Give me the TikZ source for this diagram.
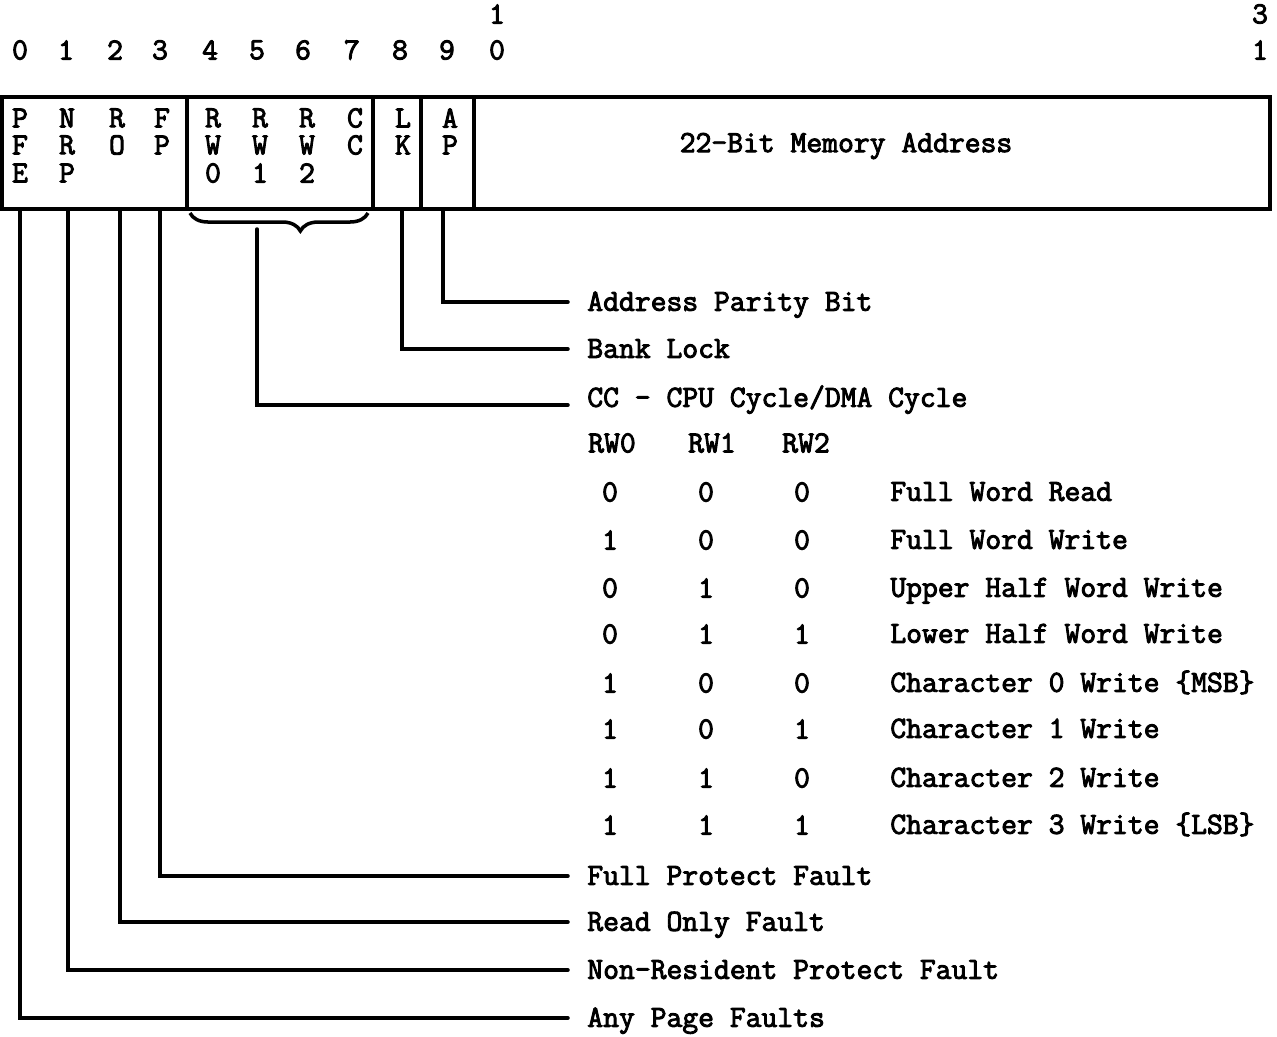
\documentclass[tikz,border=0pt]{standalone}
\usepackage{fontspec}
\newfontfamily\tw{Latin Modern Mono}[FakeBold=3]
\usetikzlibrary{decorations.pathreplacing}
\begin{document}
\begin{tikzpicture}[x=0.02cm,y=-0.02cm,
  txt/.style={font=\tw\fontsize{17.5}{20}\selectfont, inner sep=0pt},
  lab/.style={txt, anchor=mid west, inner xsep=0.38cm},
  wire/.style={line width=2pt, line cap=round},
  frame/.style={line width=2pt}]
\useasboundingbox (0,0) rectangle (1277,1036);

% bit numbers
\foreach \b/\x in {0/20,1/66,2/115,3/160,4/210,5/257,6/303,7/352,8/400,9/447}
  \node[txt] (bn\b) at (\x,50) {\b};
\node[txt] (bn10a) at (497,14) {1};
\node[txt] (bn10b) at (497,50) {0};
\node[txt] (bn31a) at (1260,14) {3};
\node[txt] (bn31b) at (1260,50) {1};

% register box
\draw[frame] (2,97) rectangle (1270,209);
\draw[frame] (187,97) -- (187,209);
\draw[frame] (373,97) -- (373,209);
\draw[frame] (421,97) -- (421,209);
\draw[frame] (474,97) -- (474,209);

% field letters
\foreach \n/\x/\y/\t in {
  a1/20/118/P, a2/20/145/F, a3/20/173/E,
  b1/67/118/N, b2/67/145/R, b3/67/173/P,
  c1/117/118/R, c2/117/145/O,
  d1/162/118/F, d2/162/145/P,
  e1/213/118/R, e2/213/145/W, e3/213/173/0,
  f1/260/118/R, f2/260/145/W, f3/260/173/1,
  g1/307/118/R, g2/307/145/W, g3/307/173/2,
  h1/355/118/C, h2/355/145/C,
  i1/403/118/L, i2/403/145/K,
  j1/450/118/A, j2/450/145/P}
  \node[txt] (fl\n) at (\x,\y) {\t};
\node[txt] (addr) at (846,146) {22-Bit Memory Address};

% tap points
\coordinate (tPFE) at (20,209);
\coordinate (tNRP) at (68,209);
\coordinate (tRO)  at (120,209);
\coordinate (tFP)  at (160,209);
\coordinate (tLK)  at (402,209);
\coordinate (tAP)  at (443,209);
\coordinate (brL)  at (190,213);
\coordinate (brR)  at (368,213);
\coordinate (brT)  at (257,229);

% brace
\draw[line width=2pt, decorate, decoration={brace, amplitude=0.36cm, aspect=0.38}] (brR) -- (brL);

% labels (text centred on the lines)
\node[lab] (lAP)  at (568,307) {Address Parity Bit};
\node[lab] (lLK)  at (568,354) {Bank Lock};
\node[lab] (lCC)  at (568,403) {CC - CPU Cycle/DMA Cycle};
\node[lab] (lFP)  at (568,881) {Full Protect Fault};
\node[lab] (lRO)  at (568,927) {Read Only Fault};
\node[lab] (lNRP) at (568,975) {Non-Resident Protect Fault};
\node[lab] (lPFE) at (568,1023) {Any Page Faults};

% connectors
\draw[wire] (tAP) |- ([yshift=0.1cm]lAP.mid west);
\draw[wire] (tLK) |- ([yshift=0.1cm]lLK.mid west);
\draw[wire] (brT) |- ([yshift=-0.04cm]lCC.mid west);
\draw[wire] (tFP) |- ([yshift=0.1cm]lFP.mid west);
\draw[wire] (tRO) |- ([yshift=0.1cm]lRO.mid west);
\draw[wire] (tNRP) |- ([yshift=0.1cm]lNRP.mid west);
\draw[wire] (tPFE) |- ([yshift=0.1cm]lPFE.mid west);

% table
\node[txt] (hRW0) at (612,443) {RW0};
\node[txt] (hRW1) at (712,443) {RW1};
\node[txt] (hRW2) at (806,443) {RW2};
\foreach \r/\y/\p/\q/\s/\d in {
  1/492/0/0/0/{Full Word Read},
  2/540/1/0/0/{Full Word Write},
  3/588/0/1/0/{Upper Half Word Write},
  4/634/0/1/1/{Lower Half Word Write},
  5/683/1/0/0/{Character 0 Write \{MSB\}},
  6/729/1/0/1/{Character 1 Write},
  7/778/1/1/0/{Character 2 Write},
  8/825/1/1/1/{Character 3 Write \{LSB\}}}{
  \node[txt] (ta\r) at (610,\y) {\p};
  \node[txt] (tb\r) at (706,\y) {\q};
  \node[txt] (tc\r) at (802,\y) {\s};
  \node[txt, anchor=mid west] (td\r) at (890,\y+5) {\d};
}
\end{tikzpicture}
\end{document}
